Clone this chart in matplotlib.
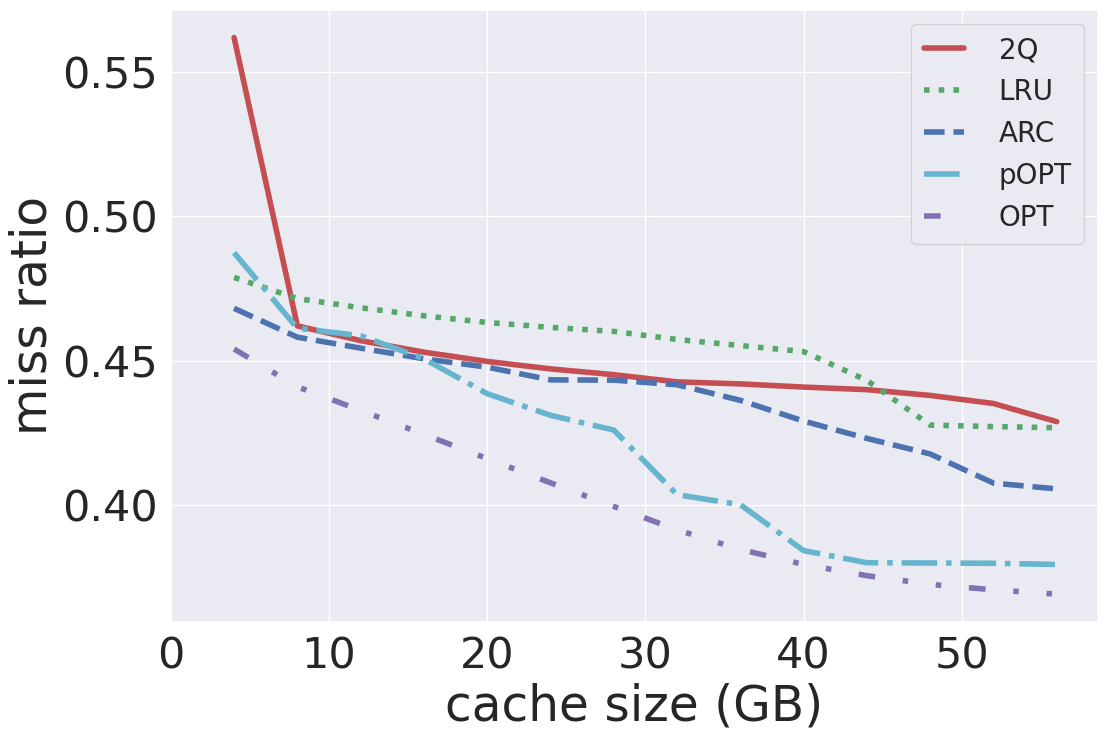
import matplotlib
matplotlib.use('Agg')
import matplotlib.pyplot as plt
import seaborn as sns

sns.set_theme(style='darkgrid')

# cache sizes in GB
cache_gb = [4, 8, 12, 16, 20, 24, 28, 32, 36, 40, 44, 48, 52, 56]

miss_2q = [0.562, 0.462, 0.4569, 0.4529, 0.4497, 0.4471, 0.4451, 0.4426,
           0.4419, 0.4408, 0.4399, 0.4379, 0.4351, 0.4288]
miss_lru = [0.4788, 0.4715, 0.4683, 0.4655, 0.4632, 0.4615, 0.4601, 0.4573,
            0.4552, 0.4531, 0.4431, 0.4276, 0.4271, 0.4267]
miss_arc = [0.4681, 0.4581, 0.4543, 0.4506, 0.4477, 0.4433, 0.4432, 0.4416,
            0.4362, 0.4290, 0.4230, 0.4176, 0.4075, 0.4055]
miss_popt = [0.4874, 0.4612, 0.4586, 0.4506, 0.4385, 0.4310, 0.4259, 0.4035,
             0.4000, 0.3841, 0.3799, 0.3798, 0.3797, 0.3793]
miss_opt = [0.4540, 0.4409, 0.4327, 0.4244, 0.4160, 0.4076, 0.3994, 0.3913,
            0.3845, 0.3793, 0.3754, 0.3724, 0.3705, 0.3690]

fig, ax = plt.subplots(figsize=(11.09, 7.44), dpi=100)
fig.subplots_adjust(left=0.154, right=0.990, top=0.987, bottom=0.164)

lw = 4
ax.plot(cache_gb, miss_2q, color='#C44E52', lw=lw, solid_capstyle='round', label='2Q')
ax.plot(cache_gb, miss_lru, color='#55A868', lw=lw, ls=':', label='LRU')
ax.plot(cache_gb, miss_arc, color='#4C72B0', lw=lw, ls='--', label='ARC')
ax.plot(cache_gb, miss_popt, color='#64B5CD', lw=lw, ls='-.', label='pOPT')
ax.plot(cache_gb, miss_opt, color='#8172B3', lw=lw, ls=(0, (3, 5, 1, 5, 1, 5)), label='OPT')

ax.set_xlim(left=0)
ax.set_xticks([0, 10, 20, 30, 40, 50])
ax.set_yticks([0.40, 0.45, 0.50, 0.55])
ax.tick_params(labelsize=31)
ax.set_xlabel('cache size (GB)', fontsize=35)
ax.set_ylabel('miss ratio', fontsize=35)
ax.legend(fontsize=20, handlelength=1.45, handletextpad=1.25, borderpad=0.45,
          loc='upper right')

fig.savefig('out.png', dpi=100)
